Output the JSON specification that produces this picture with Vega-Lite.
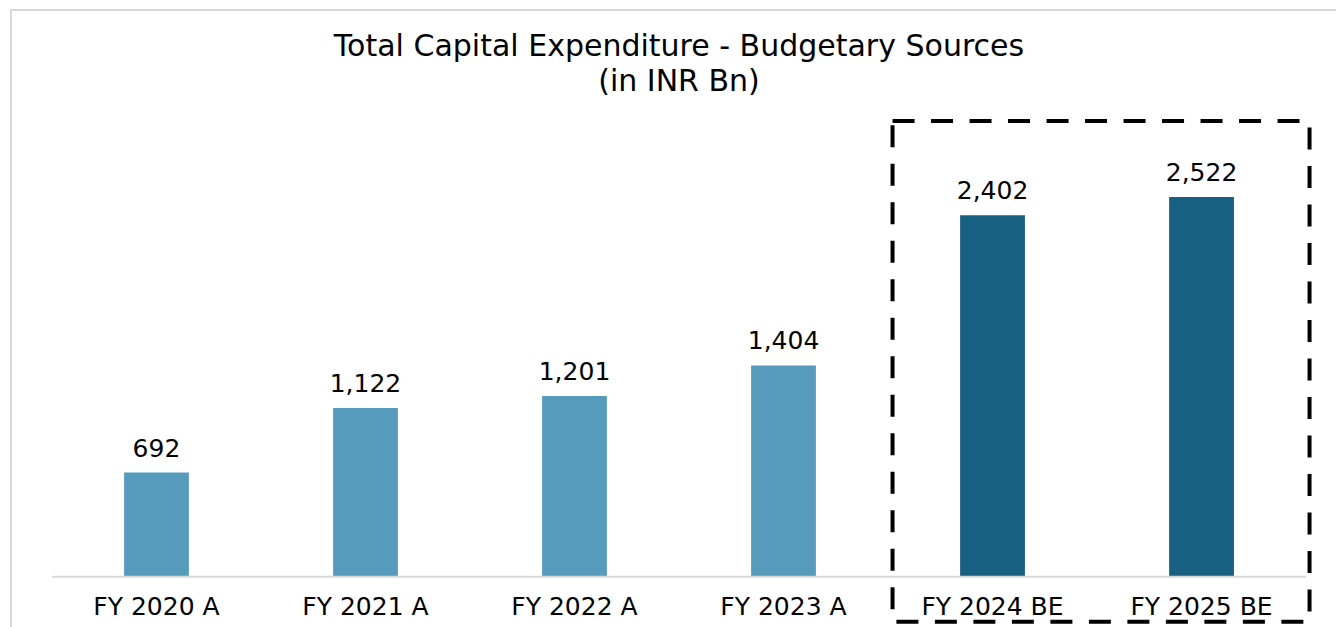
{
  "$schema": "https://vega.github.io/schema/vega-lite/v6.json",
  "width": 1336,
  "height": 627,
  "autosize": "none",
  "padding": {"left": 11, "top": 10, "right": 0, "bottom": 0},
  "datasets": {
    "bars": [
      {"label": "FY 2020 A", "value": 692, "kind": "Actual"},
      {"label": "FY 2021 A", "value": 1122, "kind": "Actual"},
      {"label": "FY 2022 A", "value": 1201, "kind": "Actual"},
      {"label": "FY 2023 A", "value": 1404, "kind": "Actual"},
      {"label": "FY 2024 BE", "value": 2402, "kind": "Budget Estimate"},
      {"label": "FY 2025 BE", "value": 2522, "kind": "Budget Estimate"}
    ],
    "box": [{"start": "FY 2024 BE", "end": "FY 2025 BE", "top": 3028, "bottom": -299}],
    "base": [{"start": "FY 2020 A", "end": "FY 2025 BE", "zero": 0}]
  },
  "title": {
    "text": ["Total Capital Expenditure - Budgetary Sources", "(in INR Bn)"],
    "font": "DejaVu Sans",
    "fontSize": 30,
    "fontWeight": "normal",
    "color": "#000000",
    "anchor": "middle",
    "frame": "group",
    "lineHeight": 35,
    "offset": -87
  },
  "config": {
    "view": {"stroke": "#d9d9d9", "strokeWidth": 2},
    "font": "DejaVu Sans"
  },
  "layer": [
    {
      "data": {"name": "bars"},
      "mark": {"type": "bar"},
      "encoding": {
        "x": {
          "field": "label",
          "type": "nominal",
          "sort": null,
          "scale": {
            "domain": ["FY 2020 A", "FY 2021 A", "FY 2022 A", "FY 2023 A", "FY 2024 BE", "FY 2025 BE"],
            "paddingInner": 0.69,
            "paddingOuter": 0.541
          },
          "axis": {
            "orient": "bottom",
            "offset": -60,
            "title": null,
            "domain": false,
            "ticks": false,
            "grid": false,
            "labelAngle": 0,
            "labelFontSize": 25,
            "labelColor": "#000000",
            "labelFont": "DejaVu Sans",
            "labelPadding": 17
          }
        },
        "y": {
          "field": "value",
          "type": "quantitative",
          "scale": {"domain": [-400, 3765], "nice": false, "zero": false},
          "axis": null
        },
        "y2": {"datum": 0},
        "color": {
          "field": "kind",
          "type": "nominal",
          "scale": {"domain": ["Actual", "Budget Estimate"], "range": ["#579bbc", "#176082"]},
          "legend": null
        }
      }
    },
    {
      "data": {"name": "bars"},
      "mark": {"type": "text", "baseline": "alphabetic", "dy": -16, "fontSize": 25, "color": "#000000", "font": "DejaVu Sans"},
      "encoding": {
        "x": {"field": "label", "type": "nominal", "sort": null},
        "y": {"field": "value", "type": "quantitative"},
        "text": {"field": "value", "type": "quantitative", "format": ","}
      }
    },
    {
      "data": {"name": "base"},
      "mark": {"type": "rule", "color": "#d9d9d9", "strokeWidth": 2},
      "encoding": {
        "x": {"field": "start", "type": "nominal", "bandPosition": -1.113},
        "x2": {"field": "end", "bandPosition": 2.113},
        "y": {"field": "zero", "type": "quantitative"}
      }
    },
    {
      "data": {"name": "box"},
      "mark": {"type": "rect", "filled": false, "stroke": "#000000", "strokeWidth": 4, "strokeDash": [22, 16.5]},
      "encoding": {
        "x": {"field": "start", "type": "nominal", "bandPosition": -1.043},
        "x2": {"field": "end", "bandPosition": 2.167},
        "y": {"field": "top", "type": "quantitative"},
        "y2": {"field": "bottom"}
      }
    }
  ]
}
